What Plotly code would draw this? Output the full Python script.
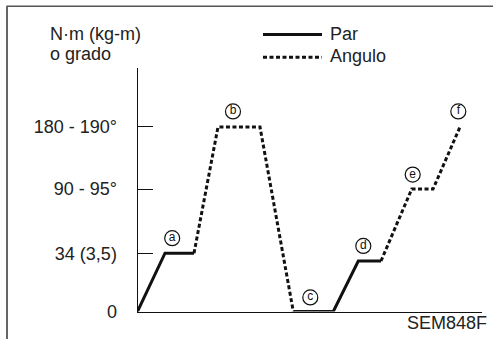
import plotly.graph_objects as go

# Tightening sequence: time steps (x) and level on the diagram scale (y)
step_x = [0.0, 2.75, 5.65, 8.05, 12.25, 15.58, 19.58, 22.08, 24.35, 27.42, 29.55, 32.25]
step_y = [0.0, 6.0, 6.0, 19.0, 19.0, 0.0, 0.0, 5.2, 5.2, 12.6, 12.6, 19.0]

# Which point ranges belong to torque (Par) and angle (Angulo)
par_ranges = [(0, 2), (5, 8)]
ang_ranges = [(2, 5), (8, 11)]

# Y axis levels and their labels
tick_levels = [0.0, 6.0, 12.6, 19.0]
tick_texts = ["0", "34 (3,5)", "90 - 95°", "180 - 190°"]

# Stage markers: letter, anchor point index, offset (dx, dy)
stage_letters = ["a", "b", "c", "d", "e", "f"]
stage_anchor = [1, 3, 5, 7, 9, 11]
stage_offset = [(0.72, 1.55), (1.5, 1.6), (1.7, 1.45), (0.5, 1.55), (0.1, 1.5), (-0.17, 1.6)]

W, H = 493, 349
FONT = "Liberation Sans, Arial, sans-serif"
FS = 18


def px_x(p):
    return p / W


def px_y(p):
    return 1 - p / H


def joined(ranges):
    xs, ys = [], []
    for a, b in ranges:
        xs += step_x[a:b + 1] + [None]
        ys += step_y[a:b + 1] + [None]
    return xs, ys


fig = go.Figure()

px_, py_ = joined(par_ranges)
fig.add_trace(go.Scatter(x=px_, y=py_, mode="lines", name="Par",
                         line=dict(color="#111", width=3), showlegend=False))
ax_, ay_ = joined(ang_ranges)
fig.add_trace(go.Scatter(x=ax_, y=ay_, mode="lines", name="Angulo",
                         line=dict(color="#111", width=3, dash="4px,2.5px"),
                         showlegend=False))

lx = [step_x[i] + d[0] for i, d in zip(stage_anchor, stage_offset)]
ly = [step_y[i] + d[1] for i, d in zip(stage_anchor, stage_offset)]
fig.add_trace(go.Scatter(x=lx, y=ly, mode="markers+text", text=stage_letters,
                         textposition="middle center",
                         textfont=dict(family=FONT, size=12, color="#111"),
                         marker=dict(symbol="circle", size=15, color="white",
                                     line=dict(color="#111", width=1.2)),
                         showlegend=False, hoverinfo="skip"))

# Axis extents in pixels
x0_px, x1_px = 137.5, 482.0
y0_px, y1_px = 320.7, 70.0
unit = 10.0

fig.update_layout(
    width=W, height=H,
    margin=dict(l=0, r=0, t=0, b=0),
    paper_bgcolor="white", plot_bgcolor="white",
    font=dict(family=FONT, size=FS, color="#222"),
    xaxis=dict(domain=[px_x(x0_px), px_x(x1_px)],
               range=[0, (x1_px - x0_px) / unit],
               showline=True, linecolor="#111", linewidth=1,
               showgrid=False, zeroline=False, showticklabels=False, ticks=""),
    yaxis=dict(domain=[px_y(y0_px), px_y(y1_px)],
               range=[0, (y0_px - y1_px) / unit],
               showline=True, linecolor="#111", linewidth=1,
               showgrid=False, zeroline=False,
               tickmode="array", tickvals=tick_levels, ticktext=tick_texts,
               ticks="inside", ticklen=15, tickcolor="#111", tickwidth=1,
               ticklabelstandoff=16,
               tickfont=dict(family=FONT, size=FS, color="#222")),
)

shapes = [
    # frame: top and left edges
    dict(type="line", xref="paper", yref="paper", x0=px_x(7), x1=1.0,
         y0=px_y(6.5), y1=px_y(6.5), line=dict(color="#555", width=1.6)),
    dict(type="line", xref="paper", yref="paper", x0=px_x(7), x1=px_x(7),
         y0=px_y(6), y1=0, line=dict(color="#666", width=2)),
    # legend samples
    dict(type="line", xref="paper", yref="paper", x0=px_x(263), x1=px_x(322),
         y0=px_y(35.5), y1=px_y(35.5), line=dict(color="#111", width=3)),
    dict(type="line", xref="paper", yref="paper", x0=px_x(263), x1=px_x(322),
         y0=px_y(59), y1=px_y(59), line=dict(color="#111", width=3, dash="4px,2.5px")),
]
fig.update_layout(shapes=shapes)

annots = [
    dict(text="N·m (kg-m)", x=px_x(48), y=px_y(35), xanchor="left", yanchor="middle"),
    dict(text="o grado", x=px_x(48), y=px_y(56), xanchor="left", yanchor="middle"),
    dict(text="Par", x=px_x(328), y=px_y(35.5), xanchor="left", yanchor="middle"),
    dict(text="Angulo", x=px_x(328), y=px_y(58), xanchor="left", yanchor="middle"),
    dict(text="SEM848F", x=px_x(489), y=px_y(333), xanchor="right", yanchor="middle"),
]
for a in annots:
    a.update(xref="paper", yref="paper", showarrow=False,
             font=dict(family=FONT, size=FS, color="#222"))
fig.update_layout(annotations=annots)

fig.write_html("out.html")
